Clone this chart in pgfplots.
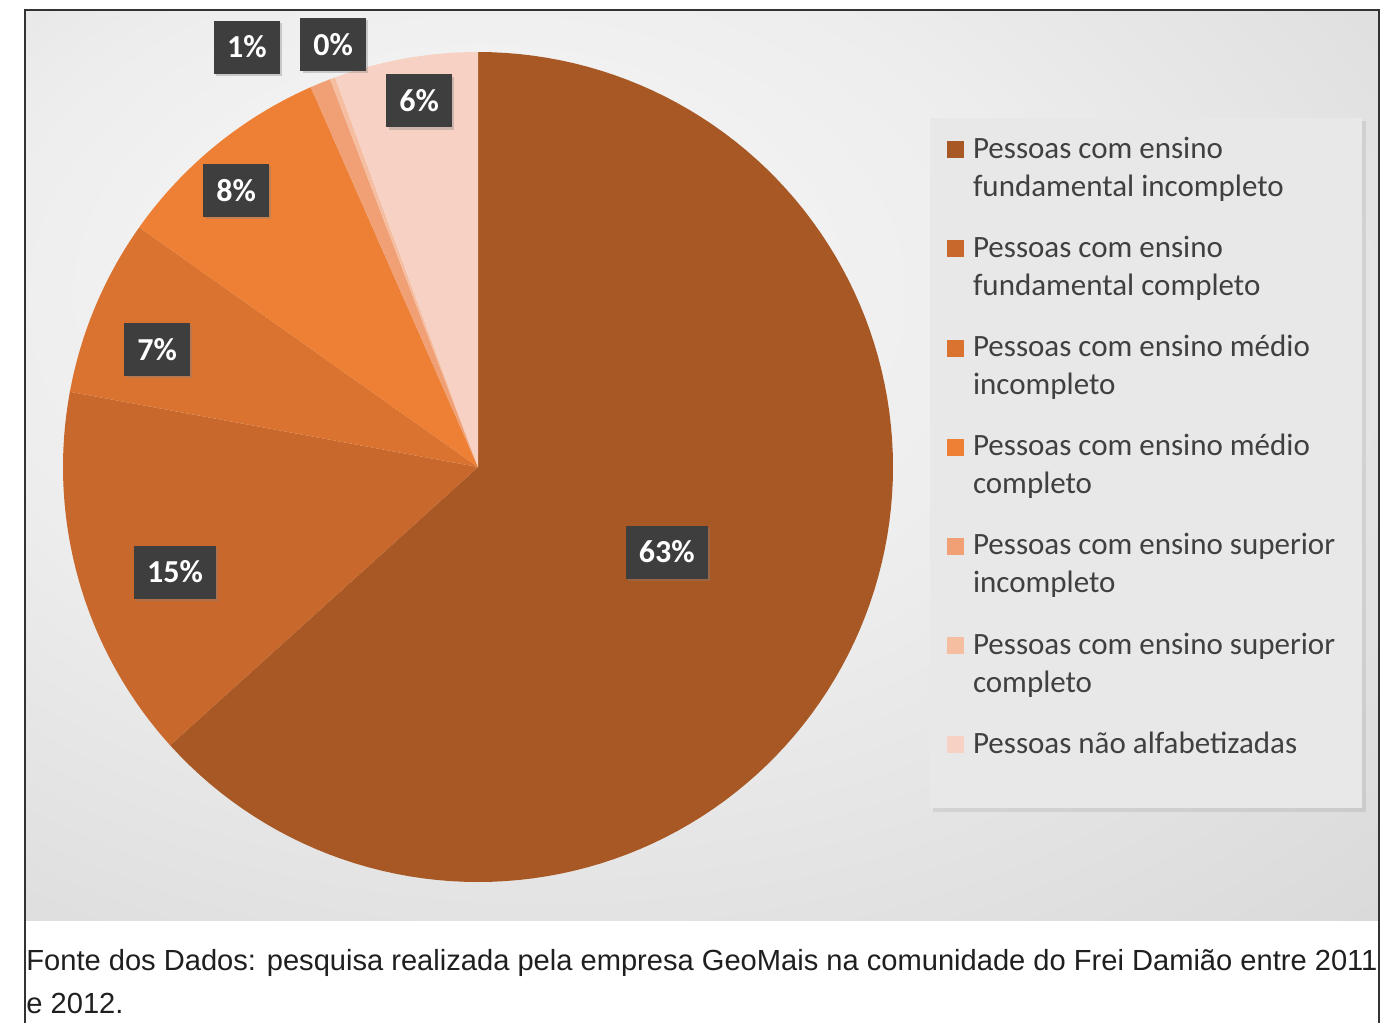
\documentclass[border=0pt]{standalone}
\usepackage{pgfplots}
\pgfplotsset{compat=1.18}
\usepackage{fontspec}
\setmainfont{Liberation Sans}
\newfontfamily\carlito{Carlito}
\usetikzlibrary{shadows}

\definecolor{cA}{RGB}{168,88,36}
\definecolor{cB}{RGB}{200,104,44}
\definecolor{cC}{RGB}{218,115,48}
\definecolor{cD}{RGB}{237,128,52}
\definecolor{cE}{RGB}{241,160,118}
\definecolor{cF}{RGB}{246,190,160}
\definecolor{cG}{RGB}{247,210,196}
\definecolor{lblbg}{RGB}{62,62,62}
\definecolor{legtext}{RGB}{64,64,64}

\pgfdeclareradialshading{bgshade}{\pgfpoint{-10bp}{12bp}}{color(0bp)=(white!97!black); color(20bp)=(white!93!black); color(72bp)=(white!75!black)}

\tikzset{lbl/.style={fill=lblbg, text=white, font=\carlito\bfseries\fontsize{16}{19}\selectfont,
    inner xsep=6.5pt, minimum height=26.5pt,
    drop shadow={shadow xshift=1.2pt, shadow yshift=-1.2pt, opacity=0.35}}}

% data: share of each group (%)
\def\vA{63.3}
\def\vB{14.6}
\def\vC{6.9}
\def\vD{8.6}
\def\vE{0.8}
\def\vF{0.2}
\def\vG{5.6}

\begin{document}
\begin{tikzpicture}[x=0.5pt,y=-0.5pt]
\useasboundingbox (0,0) rectangle (1385,1023);
\fill[white] (0,0) rectangle (1385,1023);
\shade[shading=bgshade] (26,11) rectangle (1378,920);
% legend panel
\fill[black,opacity=0.08] (933,121) rectangle (1366,812);
\fill[white!91!black] (930,118) rectangle (1362,808);
% frame
\draw[line width=1pt, black!80] (25,1023) -- (25,10) -- (1379,10) -- (1379,1023);

\pgfmathsetmacro\aA{90-3.6*\vA}
\pgfmathsetmacro\aB{\aA-3.6*\vB}
\pgfmathsetmacro\aC{\aB-3.6*\vC}
\pgfmathsetmacro\aD{\aC-3.6*\vD}
\pgfmathsetmacro\aE{\aD-3.6*\vE}
\pgfmathsetmacro\aF{\aE-3.6*\vF}
\pgfmathsetmacro\aG{\aF-3.6*\vG}

\begin{axis}[
  at={(239pt,-233.5pt)}, anchor=origin,
  width=415pt, height=415pt, scale only axis,
  xmin=-1, xmax=1, ymin=-1, ymax=1,
  hide axis, clip=false,
  samples=120,
  legend image code/.code={\fill[#1] (0pt,3.5pt) rectangle (8.5pt,12pt);},
  legend cell align=left,
  legend style={at={(1.0651,0.9043)}, anchor=north west, draw=none, fill=none,
    inner sep=0pt, outer sep=0pt, row sep=15.8pt, column sep=4.5pt,
    font=\carlito\fontsize{15.5}{19}\selectfont, text=legtext,
    nodes={inner sep=0pt, align=left}},
]
\addplot[fill=cA, draw=none, domain=\aA:90] ({cos(x)},{sin(x)}) -- (0,0) -- cycle;
\addlegendentry{\strut Pessoas com ensino\\fundamental incompleto\strut}
\addplot[fill=cB, draw=none, domain=\aB:\aA] ({cos(x)},{sin(x)}) -- (0,0) -- cycle;
\addlegendentry{\strut Pessoas com ensino\\fundamental completo\strut}
\addplot[fill=cC, draw=none, domain=\aC:\aB] ({cos(x)},{sin(x)}) -- (0,0) -- cycle;
\addlegendentry{\strut Pessoas com ensino médio\\incompleto\strut}
\addplot[fill=cD, draw=none, domain=\aD:\aC] ({cos(x)},{sin(x)}) -- (0,0) -- cycle;
\addlegendentry{\strut Pessoas com ensino médio\\completo\strut}
\addplot[fill=cE, draw=none, domain=\aE:\aD] ({cos(x)},{sin(x)}) -- (0,0) -- cycle;
\addlegendentry{\strut Pessoas com ensino superior\\incompleto\strut}
\addplot[fill=cF, draw=none, domain=\aF:\aE, samples=5] ({cos(x)},{sin(x)}) -- (0,0) -- cycle;
\addlegendentry{\strut Pessoas com ensino superior\\completo\strut}
\addplot[fill=cG, draw=none, domain=\aG:\aF] ({cos(x)},{sin(x)}) -- (0,0) -- cycle;
\addlegendentry{\strut Pessoas não alfabetizadas\\\strut}

\node[lbl] at (axis cs:0.455,-0.205) {63\%};
\node[lbl] at (axis cs:-0.730,-0.253) {15\%};
\node[lbl] at (axis cs:-0.773,0.284) {7\%};
\node[lbl] at (axis cs:-0.583,0.667) {8\%};
\node[lbl] at (axis cs:-0.557,1.012) {1\%};
\node[lbl] at (axis cs:-0.349,1.019) {0\%};
\node[lbl] at (axis cs:-0.142,0.882) {6\%};
\end{axis}

\node[anchor=base west, inner sep=0pt, font=\fontsize{14.55}{17}\selectfont, text=black!88] at (26,970)
  {Fonte dos Dados: pesquisa realizada pela empresa GeoMais na comunidade do Frei Damião entre 2011};
\node[anchor=base west, inner sep=0pt, font=\fontsize{14.55}{17}\selectfont, text=black!88] at (26,1013)
  {e 2012.};
\end{tikzpicture}
\end{document}
